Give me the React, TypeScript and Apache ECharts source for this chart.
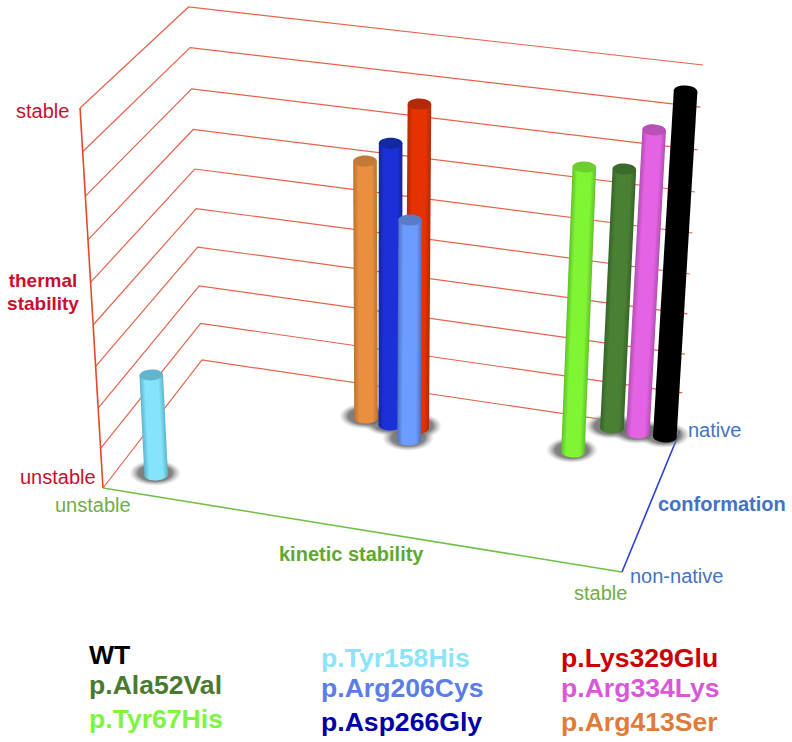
import React, { useEffect, useRef } from "react";
import * as echarts from "echarts";

const FONT = '"Liberation Sans", Arial, sans-serif';

// Variants, in drawing order (back to front)
const variantNames = ["WT", "p.Ala52Val", "p.Arg334Lys", "p.Tyr67His", "p.Lys329Glu", "p.Asp266Gly", "p.Arg413Ser", "p.Arg206Cys", "p.Tyr158His"];
const kineticValues = [0.976, 0.869, 0.922, 0.817, 0.502, 0.448, 0.394, 0.5, 0.078];
const conformationValues = [0.94, 0.948, 0.94, 0.734, 0.736, 0.729, 0.752, 0.643, 0.139];
const thermalValues = [0.942, 0.708, 0.826, 0.768, 0.883, 0.769, 0.704, 0.595, 0.265];
// body centre, body edge, cap
const bodyColors = ["#000000", "#4a8034", "#e462e4", "#80f534", "#e63200", "#1c30d8", "#ea8e40", "#6c9cff", "#84e4fa"];
const edgeColors = ["#000000", "#38622a", "#b050b0", "#62c02c", "#b02a06", "#14249c", "#b8742e", "#5070c0", "#5cb4cc"];
const capColors = ["#000000", "#3c6a2c", "#b852b4", "#6cd02c", "#b42a08", "#1528a4", "#c27a38", "#5a7cc8", "#62b6cc"];

const thermalLevels = [0, 0.104, 0.21, 0.32, 0.429, 0.541, 0.653, 0.768, 0.885, 1];

const legendNames = [
  ["WT", "p.Ala52Val", "p.Tyr67His"],
  ["p.Tyr158His", "p.Arg206Cys", "p.Asp266Gly"],
  ["p.Lys329Glu", "p.Arg334Lys", "p.Arg413Ser"],
];
const legendColors = [
  ["#000000", "#4a7a30", "#7ef53e"],
  ["#8ce4fa", "#5c7ce8", "#0000a8"],
  ["#cc0000", "#d858d8", "#e07b39"],
];

// Perspective of the box, in axis units
const floorA = [103, 488], floorB = [622, 572], floorC = [680, 431], floorD = [202, 360];
const vanishing = [384, 5138];
const heightA = 380, heightB = 395, heightC = 366, heightD = 353;

function makeHomography() {
  const [x0, y0] = floorA, [x1, y1] = floorB, [x2, y2] = floorC, [x3, y3] = floorD;
  const dx1 = x1 - x2, dx2 = x3 - x2, sx = x0 - x1 + x2 - x3;
  const dy1 = y1 - y2, dy2 = y3 - y2, sy = y0 - y1 + y2 - y3;
  const den = dx1 * dy2 - dx2 * dy1;
  const g = (sx * dy2 - dx2 * sy) / den;
  const h = (dx1 * sy - sx * dy1) / den;
  const a = x1 - x0 + g * x1, b = x3 - x0 + h * x3;
  const d = y1 - y0 + g * y1, e = y3 - y0 + h * y3;
  return (k: number, c: number) => {
    const w = g * k + h * c + 1;
    return [(a * k + b * c + x0) / w, (d * k + e * c + y0) / w];
  };
}
const floor = makeHomography();

function project(k: number, c: number, t: number) {
  const [px, py] = floor(k, c);
  const full = heightA * (1 - k) * (1 - c) + heightB * k * (1 - c) + heightC * k * c + heightD * (1 - k) * c;
  const rise = t * full;
  return [px + (rise * (px - vanishing[0])) / (vanishing[1] - py), py - rise];
}

const barRadius = 11.8;
const capRy = 5.5;

const textEl = (text: string, x: number, y: number, color: string, size: number, bold = false, align = "left") => ({
  type: "text",
  x,
  y,
  silent: true,
  style: { text, fill: color, font: `${bold ? "bold " : ""}${size}px ${FONT}`, textAlign: align, textVerticalAlign: "middle" },
});

export default function App() {
  const ref = useRef<HTMLDivElement>(null);
  useEffect(() => {
    document.body.style.margin = "0";
    document.body.style.background = "#fff";
    const chart = echarts.init(ref.current!, undefined, { renderer: "svg" });
    const barData = variantNames.map((name, i) => ({ name, value: [kineticValues[i], conformationValues[i], thermalValues[i], i] }));

    const legendX = [89, 321, 561];
    const legendY = [[655, 685, 719], [658, 688, 722], [658, 688, 722]];
    const legendTexts: any[] = [];
    legendNames.forEach((col, ci) =>
      col.forEach((n, ri) => legendTexts.push(textEl(n, legendX[ci], legendY[ci][ri], legendColors[ci][ri], 26.6, true)))
    );

    chart.setOption({
      animation: false,
      backgroundColor: "#ffffff",
      grid: { left: 0, top: 0, width: 792, height: 742 },
      xAxis: { type: "value", min: 0, max: 792, show: false },
      yAxis: { type: "value", min: 0, max: 742, inverse: true, show: false },
      series: [
        {
          type: "custom",
          name: "thermal levels",
          silent: true,
          clip: false,
          data: thermalLevels.map((t) => [t]),
          encode: { x: 0 },
          renderItem: (_: any, api: any) => {
            const t = api.value(0);
            const pts = [project(0, 0, t), project(0, 1, t), project(1, 1, t)].map((p) => api.coord(p));
            return { type: "polyline", shape: { points: pts }, style: { stroke: "#e4634a", lineWidth: 1.2, fill: "none" } };
          },
        },
        {
          type: "custom",
          name: "axes",
          silent: true,
          clip: false,
          data: [
            [0, 0, 0, 0, 0, 1, "#e2482a"],
            [0, 0, 0, 1, 0, 0, "#70c046"],
            [1, 0, 0, 1, 1, 0, "#2a40d8"],
          ],
          encode: { x: 0 },
          renderItem: (_: any, api: any) => {
            const a = api.coord(project(api.value(0), api.value(1), api.value(2)));
            const b = api.coord(project(api.value(3), api.value(4), api.value(5)));
            return {
              type: "line",
              shape: { x1: a[0], y1: a[1], x2: b[0], y2: b[1] },
              style: { stroke: api.value(6), lineWidth: 1.6 },
            };
          },
        },
        {
          type: "custom",
          name: "shadows",
          silent: true,
          clip: false,
          data: barData,
          encode: { x: 0 },
          renderItem: (_: any, api: any) => {
            const p = api.coord(project(api.value(0), api.value(1), 0));
            return {
              type: "ellipse",
              shape: { cx: p[0] - 1, cy: p[1] - 2, rx: 26, ry: 13 },
              style: {
                fill: new echarts.graphic.RadialGradient(0.5, 0.5, 0.5, [
                  { offset: 0, color: "rgba(100,100,100,0.95)" },
                  { offset: 0.65, color: "rgba(110,110,110,0.85)" },
                  { offset: 1, color: "rgba(170,170,170,0)" },
                ]),
              },
            };
          },
        },
        {
          type: "custom",
          name: "bars",
          silent: true,
          clip: false,
          data: barData,
          encode: { x: 0 },
          renderItem: (_: any, api: any) => {
            const i = api.value(3);
            const base = api.coord(project(api.value(0), api.value(1), 0));
            const top = api.coord(project(api.value(0), api.value(1), api.value(2)));
            const dx = top[0] - base[0], dy = top[1] - base[1];
            const len = Math.hypot(dx, dy);
            const grad = () =>
              new echarts.graphic.LinearGradient(0, 0, 1, 0, [
                { offset: 0, color: edgeColors[i] },
                { offset: 0.22, color: bodyColors[i] },
                { offset: 0.78, color: bodyColors[i] },
                { offset: 1, color: edgeColors[i] },
              ]);
            return {
              type: "group",
              x: base[0],
              y: base[1],
              rotation: Math.atan2(-dx, -dy),
              children: [
                { type: "rect", shape: { x: -barRadius, y: -len, width: barRadius * 2, height: len }, style: { fill: grad() } },
                { type: "ellipse", shape: { cx: 0, cy: 0, rx: barRadius, ry: capRy }, style: { fill: grad() } },
                { type: "ellipse", shape: { cx: 0, cy: -len, rx: barRadius, ry: capRy }, style: { fill: capColors[i] } },
              ],
            };
          },
        },
      ],
      graphic: {
        elements: [
          textEl("stable", 16, 111, "#c8102e", 20),
          textEl("unstable", 20, 477, "#c8102e", 20),
          textEl("thermal", 43, 280, "#c8102e", 19, true, "center"),
          textEl("stability", 43, 303, "#c8102e", 19, true, "center"),
          textEl("unstable", 55, 505, "#70ad47", 20),
          textEl("stable", 574, 593, "#70ad47", 20),
          textEl("kinetic stability", 279, 554, "#5fa82e", 20, true),
          textEl("native", 688, 430, "#4472c4", 20),
          textEl("non-native", 630, 576, "#4472c4", 20),
          textEl("conformation", 658, 504, "#4472c4", 20, true),
          ...legendTexts,
        ],
      },
    });
    return () => chart.dispose();
  }, []);
  return <div ref={ref} style={{ position: "absolute", left: 0, top: 0, width: 792, height: 742 }} />;
}
